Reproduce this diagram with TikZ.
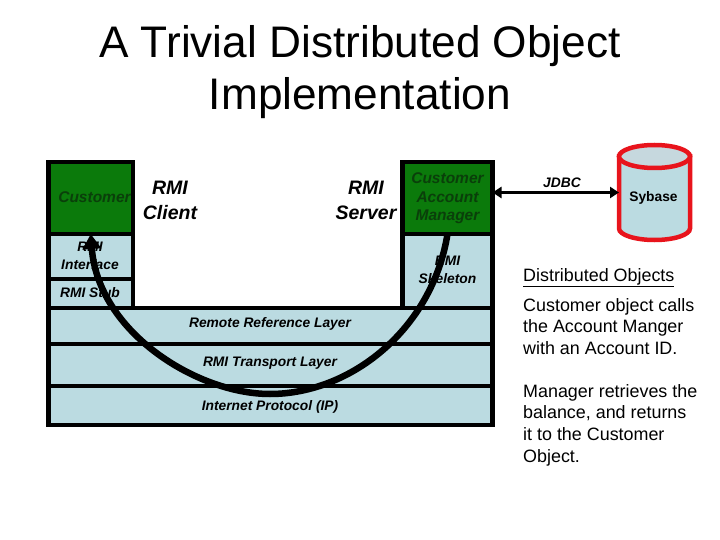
\documentclass[tikz,border=0pt]{standalone}
\usepackage{fontspec}
\setmainfont{Liberation Sans}
\usetikzlibrary{arrows.meta}
\definecolor{layerblue}{HTML}{BBDBE1}
\definecolor{objgreen}{HTML}{0B7A0B}
\definecolor{dbred}{HTML}{E8141C}
\definecolor{dbtop}{HTML}{C6D8DE}
\definecolor{darktext}{HTML}{0A3F0A}
\tikzset{
  cell/.style={draw=black,line width=4.5pt,fill=layerblue,rectangle,anchor=north west,inner sep=0pt,outer sep=0pt},
  objcell/.style={cell,fill=objgreen},
  small/.style={font=\fontsize{13.8}{18.5}\selectfont\bfseries\itshape,align=center,inner sep=0pt,text=black},
  smallgreen/.style={small,font=\fontsize{15.5}{18.5}\selectfont\bfseries\itshape,text=darktext},
  side/.style={font=\fontsize{19.5}{24.5}\selectfont\bfseries\itshape,align=center,inner sep=0pt},
  body/.style={font=\fontsize{17.9}{21.7}\selectfont,align=left,anchor=north west,inner sep=0pt},
  call/.style={line width=6.5pt,-{Triangle[length=15pt,width=18pt]},{Triangle[length=15pt,width=18pt]}-}
}
\begin{document}
\begin{tikzpicture}[x=1pt,y=-1pt]
\useasboundingbox (0,0) rectangle (720,540);
% layers
\node[cell,minimum width=444pt,minimum height=39pt] (ip) at (48.5,386) {};
\node[cell,minimum width=444pt,minimum height=42pt] (transport) at (48.5,344) {};
\node[cell,minimum width=444pt,minimum height=36pt] (remote) at (48.5,308) {};
\node[cell,minimum width=84.5pt,minimum height=29pt] (stub) at (48.5,279) {};
\node[cell,minimum width=84.5pt,minimum height=45pt] (iface) at (48.5,234) {};
\node[objcell,minimum width=84.5pt,minimum height=72pt] (customer) at (48.5,162) {};
\node[cell,minimum width=90pt,minimum height=74pt] (skeleton) at (402.5,234) {};
\node[objcell,minimum width=90pt,minimum height=72pt] (manager) at (402.5,162) {};
% cell texts
\node[smallgreen] (tcustomer) at (94.5,197) {Customer};
\node[small] (tiface) at (90,256) {RMI\\[-1pt]Interface};
\node[small] (tstub) at (90,293) {RMI Stub};
\node[small] (tremote) at (270,324) {Remote Reference Layer};
\node[small] (ttransport) at (270,363) {RMI Transport Layer};
\node[small] (tip) at (270,407) {Internet Protocol (IP)};
\node[smallgreen] (tmanager) at (447.5,198.5) {Customer\\Account\\Manager};
\node[small] (tskel) at (447.5,270) {RMI\\[-1pt]Skeleton};
% side texts
\node[side] (client) at (170,200.5) {RMI\\Client};
\node[side] (server) at (366,200.5) {RMI\\Server};
% title
\node[font=\fontsize{44.2}{52}\selectfont,align=center,inner sep=0pt] (title) at (360,72) {A Trivial Distributed Object\\Implementation};
% database
\node[minimum width=71pt,minimum height=95pt,inner sep=0pt,outer sep=0pt] (sybase) at (654.5,192.5) {};
\filldraw[draw=dbred,line width=4.5pt,fill=layerblue] (sybase.north west) ++(0,11.5) -- ++(0,72) arc[x radius=35.5,y radius=-11.5,start angle=180,end angle=360] -- ++(0,-72) -- cycle;
\filldraw[draw=dbred,line width=4.5pt,fill=dbtop] (sybase.center |- 0,156.5) ellipse[x radius=35.5,y radius=11.5];
\node[font=\fontsize{13.8}{16}\selectfont\bfseries,inner sep=0pt] (tsybase) at (653.5,198) {Sybase};
% jdbc
\draw[line width=3.5pt,{Triangle[length=9pt,width=11pt]}-{Triangle[length=9pt,width=11pt]}] (manager.east |- sybase.center) -- (sybase.west);
\node[font=\fontsize{13.8}{16}\selectfont\bfseries\itshape,inner sep=0pt] (tjdbc) at (562,183) {JDBC};
% call arrow
\draw[call] (customer.south) .. controls (98,332) and (197,394) .. (270,394) .. controls (350,394) and (432,330) .. (manager.south);
% notes
\node[body] (heading) at (523,268) {\underline{Distributed Objects}};
\node[body] (note1) at (523,298) {Customer object calls\\the Account Manger\\with an Account ID.};
\node[body] (note2) at (523,384) {Manager retrieves the\\balance, and returns\\it to the Customer\\Object.};
\end{tikzpicture}
\end{document}
